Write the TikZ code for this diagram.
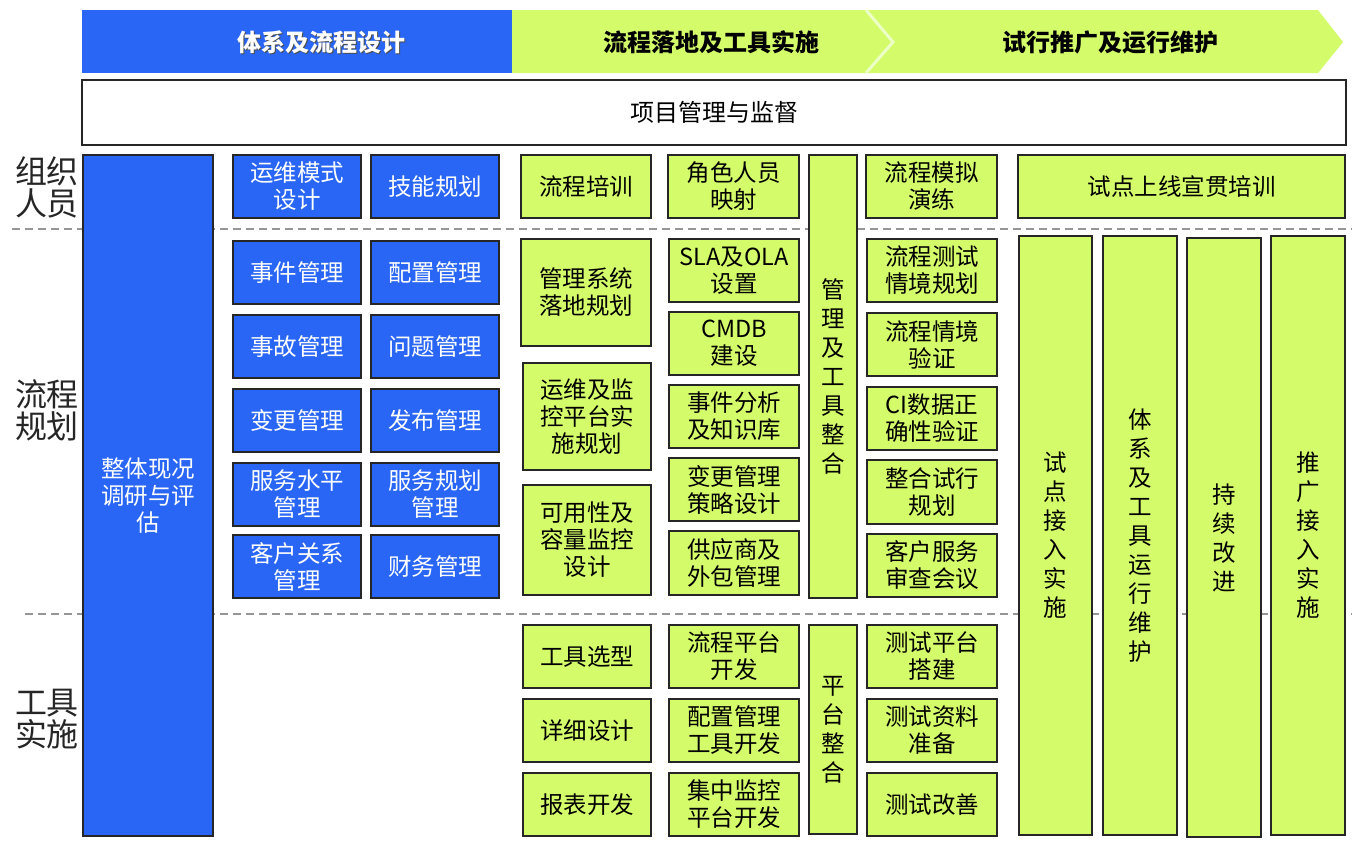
\documentclass[tikz,border=0pt]{standalone}
\usepackage{fontspec}
\setmainfont{Noto Sans CJK SC}
\definecolor{cblue}{RGB}{41,102,245}
\definecolor{cgreen}{RGB}{212,251,106}
\definecolor{cdash}{RGB}{150,150,150}
\definecolor{csep}{RGB}{236,255,196}
\tikzset{
  boxbase/.style={draw=black!85, line width=1.8pt, inner sep=0pt, align=center,
    font=\fontsize{23.5}{27}\selectfont},
  bluebox/.style={boxbase, fill=cblue, text=white},
  greenbox/.style={boxbase, fill=cgreen, text=black},
  vbox/.style={greenbox, font=\fontsize{23.5}{29}\selectfont},
  rowlabel/.style={align=center, inner sep=0pt, font=\fontsize{32}{32}\selectfont, text=black!85},
  sepline/.style={cdash, line width=1.5pt, dash pattern=on 8pt off 5pt},
  headtext/.style={font=\fontsize{24}{27}\selectfont\bfseries, inner sep=0pt}
}
\newcommand{\bx}[7]{%
  \node[#2, minimum width={(#5-#3)*1pt}, minimum height={(#6-#4)*1pt}]
    (#1) at ({(#3+#5)/2},{(#4+#6)/2}) {#7};}
\begin{document}
\begin{tikzpicture}[x=1pt,y=-1pt]
\useasboundingbox (0,0) rectangle (1352,846);
% header
\fill[cgreen] (512,10) -- (1318,10) -- (1343,42) -- (1318,73) -- (512,73) -- cycle;
\draw[csep, line width=3pt] (866,10) -- (893,42) -- (866,73);
\fill[cblue] (82,10) rectangle (512,73);
\node[headtext, text=black!70] at (322.5,43.5) {体系及流程设计};
\node[headtext, text=white] (h1) at (321,42) {体系及流程设计};
\node[headtext, text=black] (h2) at (711,42) {流程落地及工具实施};
\node[headtext, text=black] (h3) at (1110,42) {试行推广及运行维护};
% project management
\bx{pm}{boxbase, fill=white, font=\fontsize{24}{27}\selectfont}{82}{80}{1346}{145}{项目管理与监督}
% dashed separators
\draw[sepline] (12,229) -- (1352,229);
\draw[sepline] (25,614) -- (1352,614);
% row labels
\node[rowlabel] (r1) at (47,187) {组织\\人员};
\node[rowlabel] (r2) at (47,410) {流程\\规划};
\node[rowlabel] (r3) at (47,719) {工具\\实施};
% big blue column
\bx{zt}{bluebox}{83}{155}{213}{836}{整体现况\\调研与评\\估}
% blue boxes
\bx{b11}{bluebox}{233}{155}{361}{218}{运维模式\\设计}
\bx{b12}{bluebox}{371}{155}{499}{218}{技能规划}
\bx{b21}{bluebox}{233}{241}{361}{304}{事件管理}
\bx{b22}{bluebox}{371}{241}{499}{304}{配置管理}
\bx{b31}{bluebox}{233}{315}{361}{378}{事故管理}
\bx{b32}{bluebox}{371}{315}{499}{378}{问题管理}
\bx{b41}{bluebox}{233}{389}{361}{452}{变更管理}
\bx{b42}{bluebox}{371}{389}{499}{452}{发布管理}
\bx{b51}{bluebox}{233}{463}{361}{526}{服务水平\\管理}
\bx{b52}{bluebox}{371}{463}{499}{526}{服务规划\\管理}
\bx{b61}{bluebox}{233}{535}{361}{598}{客户关系\\管理}
\bx{b62}{bluebox}{371}{535}{499}{598}{财务管理}
% green column 3
\bx{g31}{greenbox}{521}{155}{651}{218}{流程培训}
\bx{g32}{greenbox}{521}{239}{651}{346}{管理系统\\落地规划}
\bx{g33}{greenbox}{523}{363}{651}{470}{运维及监\\控平台实\\施规划}
\bx{g34}{greenbox}{523}{485}{651}{595}{可用性及\\容量监控\\设计}
\bx{g35}{greenbox}{523}{625}{651}{688}{工具选型}
\bx{g36}{greenbox}{523}{699}{651}{762}{详细设计}
\bx{g37}{greenbox}{523}{773}{651}{836}{报表开发}
% green column 4
\bx{g41}{greenbox}{668}{155}{799}{218}{角色人员\\映射}
\bx{g42}{greenbox}{669}{239}{799}{302}{SLA及OLA\\设置}
\bx{g43}{greenbox}{669}{312}{799}{375}{CMDB\\建设}
\bx{g44}{greenbox}{669}{385}{799}{448}{事件分析\\及知识库}
\bx{g45}{greenbox}{669}{458}{799}{521}{变更管理\\策略设计}
\bx{g46}{greenbox}{669}{531}{799}{595}{供应商及\\外包管理}
\bx{g47}{greenbox}{669}{625}{799}{688}{流程平台\\开发}
\bx{g48}{greenbox}{669}{699}{799}{762}{配置管理\\工具开发}
\bx{g49}{greenbox}{669}{773}{799}{836}{集中监控\\平台开发}
% narrow column 5
\bx{g51}{vbox}{809}{155}{857}{598}{管\\理\\及\\工\\具\\整\\合}
\bx{g52}{vbox}{809}{625}{857}{834}{平\\台\\整\\合}
% green column 6
\bx{g61}{greenbox}{866}{155}{997}{218}{流程模拟\\演练}
\bx{g62}{greenbox}{867}{239}{997}{302}{流程测试\\情境规划}
\bx{g63}{greenbox}{867}{313}{997}{376}{流程情境\\验证}
\bx{g64}{greenbox}{867}{387}{997}{450}{CI数据正\\确性验证}
\bx{g65}{greenbox}{867}{460}{997}{524}{整合试行\\规划}
\bx{g66}{greenbox}{867}{534}{997}{597}{客户服务\\审查会议}
\bx{g67}{greenbox}{867}{625}{997}{688}{测试平台\\搭建}
\bx{g68}{greenbox}{867}{699}{997}{762}{测试资料\\准备}
\bx{g69}{greenbox}{867}{773}{997}{836}{测试改善}
% right section
\bx{g71}{greenbox}{1018}{155}{1345}{218}{试点上线宣贯培训}
\bx{v1}{vbox}{1019}{236}{1092}{835}{试\\点\\接\\入\\实\\施}
\bx{v2}{vbox}{1103}{236}{1177}{835}{体\\系\\及\\工\\具\\运\\行\\维\\护}
\bx{v3}{vbox}{1187}{238}{1261}{837}{持\\续\\改\\进}
\bx{v4}{vbox}{1271}{236}{1345}{835}{推\\广\\接\\入\\实\\施}
\end{tikzpicture}
\end{document}
